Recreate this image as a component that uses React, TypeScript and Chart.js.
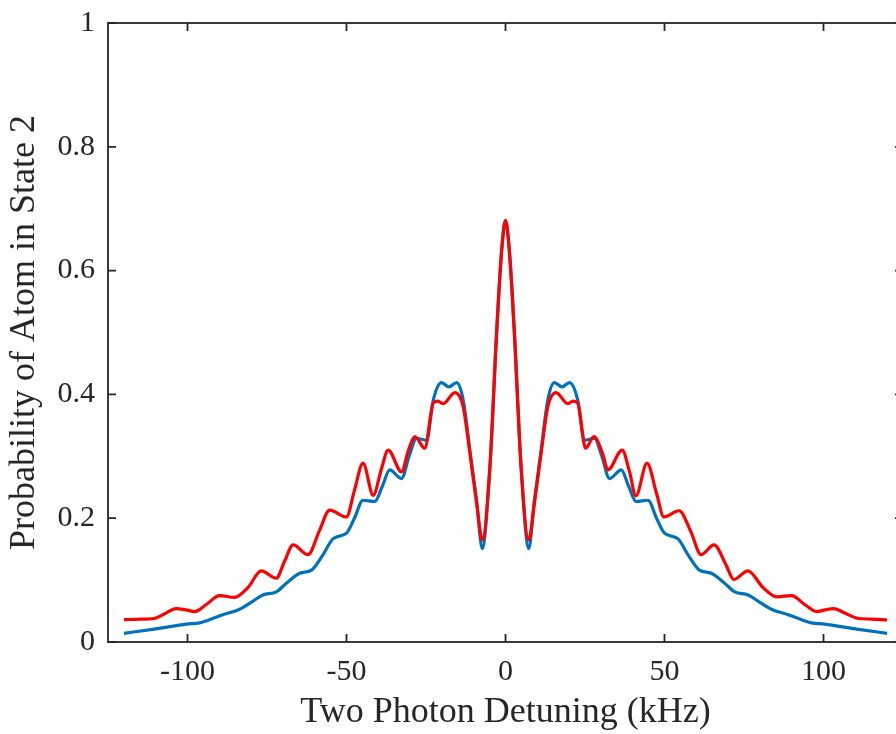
import React, { useEffect, useRef } from "react";
import { Chart, registerables } from "chart.js";

Chart.register(...registerables);

// Blue curve (kHz, probability)
const blueDetuning = [
  -120, -111, -104, -100.4, -96.2, -92.5, -88.9, -83.6, -80, -76.3, -72.1, -68.9, -64.7, -61,
  -57.5, -54.2, -50, -47.5, -44.8, -41.1, -38.7, -36.4, -32.7, -30.3, -28, -24.8, -22.7, -20.1,
  -17.8, -15.4, -13.3, -11.2, -9.1, -7.3, -4.9, -2.8, -1.2, 0,
  1.2, 2.8, 4.9, 7.3, 9.1, 11.2, 13.3, 15.4, 17.8, 20.1, 22.7, 24.8, 28, 30.3, 32.7, 36.4,
  38.7, 41.1, 44.8, 47.5, 50, 54.2, 57.5, 61, 64.7, 68.9, 72.1, 76.3, 80, 83.6, 88.9, 92.5,
  96.2, 100.4, 104, 111, 120,
];
const blueProbability = [
  0.014, 0.0205, 0.026, 0.029, 0.031, 0.037, 0.044, 0.053, 0.064, 0.076, 0.081, 0.095, 0.111, 0.116,
  0.14, 0.167, 0.176, 0.2, 0.229, 0.227, 0.252, 0.278, 0.264, 0.3, 0.329, 0.326, 0.391, 0.419,
  0.412, 0.419, 0.391, 0.31, 0.229, 0.151, 0.283, 0.499, 0.633, 0.681,
  0.633, 0.499, 0.283, 0.151, 0.229, 0.31, 0.391, 0.419, 0.412, 0.419, 0.391, 0.326, 0.329, 0.3, 0.264, 0.278,
  0.252, 0.227, 0.229, 0.2, 0.176, 0.167, 0.14, 0.116, 0.111, 0.095, 0.081, 0.076, 0.064, 0.053, 0.044, 0.037,
  0.031, 0.029, 0.026, 0.0205, 0.014,
];

// Red curve (kHz, probability)
const redDetuning = [
  -120, -115, -110.5, -107, -103.6, -100.5, -97.8, -94, -89.9, -85.2, -81, -76.8, -72.1, -69.5,
  -66.8, -62.1, -58.5, -55.3, -50, -47.5, -44.8, -41.6, -39, -36.9, -32.7, -30.5, -28.5, -25.4,
  -22.7, -21.2, -19.6, -15.9, -13.3, -11.2, -9.1, -7.3, -4.9, -2.8, -1.2, 0,
  1.2, 2.8, 4.9, 7.3, 9.1, 11.2, 13.3, 15.9, 19.6, 21.2, 22.7, 25.2, 27.8, 30.5, 32.2, 36.7,
  39, 41, 44.5, 47.5, 49.8, 54.6, 58.3, 61.5, 65.6, 69.3, 71.8, 76.2, 81, 85.3, 90, 94,
  97.9, 100.5, 103.2, 107, 111, 115, 120,
];
const redProbability = [
  0.036, 0.037, 0.038, 0.046, 0.054, 0.052, 0.049, 0.061, 0.075, 0.072, 0.088, 0.115, 0.103, 0.13,
  0.157, 0.141, 0.18, 0.213, 0.202, 0.245, 0.289, 0.237, 0.28, 0.31, 0.275, 0.31, 0.332, 0.313,
  0.386, 0.389, 0.385, 0.403, 0.38, 0.305, 0.225, 0.165, 0.283, 0.499, 0.633, 0.681,
  0.633, 0.499, 0.283, 0.165, 0.225, 0.305, 0.38, 0.403, 0.385, 0.389, 0.386, 0.313, 0.332, 0.305, 0.278, 0.31,
  0.275, 0.236, 0.289, 0.24, 0.202, 0.212, 0.178, 0.141, 0.157, 0.125, 0.101, 0.115, 0.088, 0.073, 0.075, 0.061,
  0.049, 0.052, 0.054, 0.046, 0.038, 0.037, 0.0355,
];

const xTickValues = [-100, -50, 0, 50, 100];
const yTickValues = [0, 0.2, 0.4, 0.6, 0.8, 1];
const xAxisTitle = "Two Photon Detuning (kHz)";
const yAxisTitle = "Probability of Atom in State 2";

const AXIS_COLOR = "#262626";
const FONT_FAMILY = "'Liberation Serif', 'DejaVu Serif', serif";

const framePlugin = {
  id: "matlabFrame",
  afterDraw(chart: any) {
    const { ctx, chartArea, scales } = chart;
    const { left, right, top, bottom } = chartArea;
    const xs = scales.x;
    const ys = scales.y;
    const len = 8;
    ctx.save();
    ctx.strokeStyle = AXIS_COLOR;
    ctx.lineWidth = 1.8;
    ctx.strokeRect(left, top, right - left, bottom - top);
    ctx.beginPath();
    for (const v of xTickValues) {
      const px = xs.getPixelForValue(v);
      ctx.moveTo(px, bottom);
      ctx.lineTo(px, bottom - len);
      ctx.moveTo(px, top);
      ctx.lineTo(px, top + len);
    }
    for (const v of yTickValues) {
      const py = ys.getPixelForValue(v);
      ctx.moveTo(left, py);
      ctx.lineTo(left + len, py);
      ctx.moveTo(right, py);
      ctx.lineTo(right - len, py);
    }
    ctx.stroke();
    ctx.restore();
  },
};

export default function App() {
  const canvasRef = useRef<HTMLCanvasElement | null>(null);

  useEffect(() => {
    const canvas = canvasRef.current;
    if (!canvas) return;
    const blueData = blueDetuning.map((x, i) => ({ x, y: blueProbability[i] }));
    const redData = redDetuning.map((x, i) => ({ x, y: redProbability[i] }));
    const chart = new Chart(canvas, {
      type: "line",
      data: {
        datasets: [
          {
            label: "red",
            data: redData,
            borderColor: "#FF0000",
            borderWidth: 3.2,
            pointRadius: 0,
            fill: false,
            order: 0,
            cubicInterpolationMode: "monotone",
          },
          {
            label: "blue",
            data: blueData,
            borderColor: "#0072BD",
            borderWidth: 3.2,
            pointRadius: 0,
            fill: false,
            order: 1,
            cubicInterpolationMode: "monotone",
          },
        ],
      },
      options: {
        responsive: false,
        animation: false,
        devicePixelRatio: 1,
        layout: { padding: { top: 23, right: 8, bottom: 0, left: 0 } },
        plugins: {
          legend: { display: false },
          tooltip: { enabled: false },
        },
        scales: {
          x: {
            type: "linear",
            min: -125,
            max: 125,
            afterBuildTicks: (s: any) => {
              s.ticks = xTickValues.map((v) => ({ value: v }));
            },
            afterFit: (s: any) => {
              s.height = 92;
              s.paddingLeft = 0;
              s.paddingRight = 0;
            },
            grid: { display: false, drawTicks: false },
            border: { display: false },
            ticks: {
              color: AXIS_COLOR,
              font: { family: FONT_FAMILY, size: 30 },
              padding: 12,
              maxRotation: 0,
              autoSkip: false,
              callback: (v: any) => String(v),
            },
            title: {
              display: true,
              text: xAxisTitle,
              color: AXIS_COLOR,
              font: { family: FONT_FAMILY, size: 36 },
              padding: { top: 0, bottom: 0 },
            },
          },
          y: {
            type: "linear",
            min: 0,
            max: 1,
            afterBuildTicks: (s: any) => {
              s.ticks = yTickValues.map((v) => ({ value: v }));
            },
            afterFit: (s: any) => {
              s.width = 108;
              s.paddingTop = 0;
              s.paddingBottom = 0;
            },
            grid: { display: false, drawTicks: false },
            border: { display: false },
            ticks: {
              color: AXIS_COLOR,
              font: { family: FONT_FAMILY, size: 30 },
              padding: 13,
              autoSkip: false,
              callback: (v: any) => String(v),
            },
            title: {
              display: true,
              text: yAxisTitle,
              color: AXIS_COLOR,
              font: { family: FONT_FAMILY, size: 36 },
              padding: { top: 3, bottom: 0 },
            },
          },
        },
      },
      plugins: [framePlugin],
    });
    return () => chart.destroy();
  }, []);

  return (
    <div
      style={{
        position: "absolute",
        left: 0,
        top: 0,
        width: 896,
        height: 734,
        overflow: "hidden",
        background: "#ffffff",
      }}
    >
      <canvas ref={canvasRef} width={911} height={734} style={{ display: "block" }} />
    </div>
  );
}
